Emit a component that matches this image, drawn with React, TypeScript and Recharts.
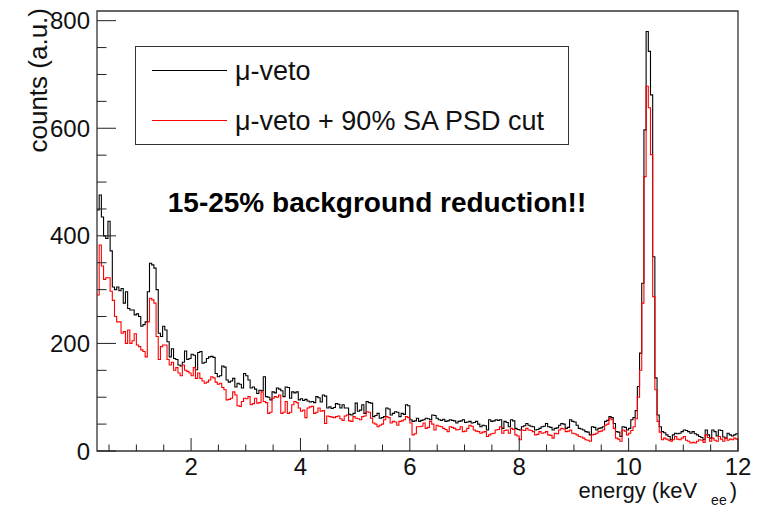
import React from 'react';
import { LineChart, Line, XAxis, YAxis, ReferenceArea, Legend } from 'recharts';

// histogram binning (keV)
const BIN_START = 0.28;
const BIN_WIDTH = 0.04;
const X_MAX = 12;
const Y_MAX = 818;

// counts per bin, mu-veto only
const muVeto = [
  // 0.28 - 2.12
  448, 476, 435, 400, 395, 427, 372, 305, 300, 305, 298, 302, 275, 296, 265, 262, 262, 253, 255, 250,
  232, 235, 240, 296, 349, 346, 340, 300, 219, 213, 232, 225, 203, 175, 190, 172, 170, 160, 158, 165,
  186, 170, 172, 180, 178, 151, 183,
  // 2.16 - 4.80
  185, 163, 165, 172, 175, 176, 174, 144, 138, 140, 158, 156, 132, 128, 130, 135, 119, 126, 124, 117,
  144, 140, 132, 117, 119, 115, 107, 113, 112, 138, 101, 100, 95, 110, 108, 117, 115, 112, 101, 119,
  118, 98, 110, 108, 110, 95, 97, 94, 96, 93, 91, 92, 90, 101, 99, 91, 104, 102, 80, 82,
  79, 81, 88, 87, 80, 86, 80,
  // 4.84 - 7.48
  80, 68, 67, 70, 89, 74, 76, 86, 70, 92, 90, 89, 64, 66, 70, 61, 62, 64, 80, 78,
  67, 70, 73, 72, 64, 70, 68, 86, 84, 58, 55, 56, 61, 55, 57, 58, 61, 60, 58, 67,
  66, 61, 58, 57, 59, 55, 56, 58, 57, 56, 52, 55, 56, 58, 53, 54, 55, 52, 53, 55,
  50, 45, 48, 47, 39, 58, 55,
  // 7.52 - 10.00
  56, 58, 57, 58, 42, 55, 53, 45, 58, 56, 42, 40, 39, 45, 47, 51, 48, 46, 45, 39,
  40, 42, 45, 46, 51, 45, 44, 39, 42, 43, 48, 51, 50, 42, 44, 58, 55, 54, 48, 42,
  41, 39, 36, 35, 30, 45, 44, 39, 42, 43, 45, 55, 57, 64, 62, 51, 36, 35, 27, 45,
  44, 39, 42,
  // 10.04 - 10.56 (peak)
  58, 62, 75, 120, 182, 312, 597, 780, 743, 662, 361, 136, 67, 45,
  // 10.60 - 11.96
  36, 34, 30, 27, 21, 30, 33, 32, 33, 36, 39, 38, 36, 33, 36, 32, 30, 27, 25, 21,
  39, 30, 24, 39, 36, 28, 39, 38, 26, 24, 33, 30, 28, 30, 32,
];

// counts per bin, mu-veto + 90% SA PSD cut
const muVetoPsd = [
  // 0.28 - 2.12
  290, 383, 344, 319, 322, 322, 297, 280, 250, 240, 240, 219, 222, 200, 225, 200, 205, 218, 197, 194,
  188, 185, 175, 240, 284, 281, 275, 213, 170, 194, 197, 197, 170, 160, 165, 150, 155, 145, 140, 160,
  150, 148, 145, 140, 155, 135, 145,
  // 2.16 - 4.80
  135, 130, 126, 128, 132, 138, 136, 128, 124, 126, 118, 114, 95, 96, 98, 110, 104, 84, 83, 92,
  98, 97, 101, 86, 88, 98, 89, 90, 110, 92, 90, 70, 72, 98, 101, 100, 104, 70, 72, 92,
  70, 72, 86, 92, 90, 80, 74, 76, 62, 80, 82, 83, 70, 72, 80, 74, 75, 51, 65, 64,
  63, 62, 64, 65, 60, 57, 65,
  // 4.84 - 7.48
  67, 56, 55, 64, 61, 60, 58, 64, 65, 73, 72, 61, 52, 50, 45, 48, 50, 58, 64, 62,
  52, 55, 54, 48, 55, 56, 58, 64, 62, 52, 30, 32, 45, 45, 46, 52, 42, 44, 55, 50,
  39, 48, 46, 45, 42, 40, 36, 45, 44, 42, 39, 40, 45, 36, 37, 42, 48, 46, 39, 37,
  36, 33, 35, 36, 27, 30, 32,
  // 7.52 - 10.00
  33, 39, 40, 45, 33, 38, 39, 33, 42, 40, 30, 28, 21, 39, 38, 42, 39, 38, 36, 30,
  31, 36, 33, 34, 36, 30, 29, 24, 33, 32, 39, 42, 41, 36, 37, 39, 33, 32, 30, 27,
  26, 24, 21, 20, 18, 30, 31, 33, 36, 37, 39, 48, 50, 61, 58, 42, 24, 22, 18, 39,
  37, 30, 33,
  // 10.04 - 10.56 (peak)
  38, 45, 60, 100, 150, 275, 510, 678, 638, 551, 287, 114, 55, 35,
  // 10.60 - 11.96
  21, 24, 22, 20, 18, 21, 27, 22, 21, 24, 27, 20, 18, 15, 16, 15, 18, 21, 20, 16,
  30, 25, 18, 24, 20, 18, 27, 22, 18, 24, 20, 22, 21, 24, 22,
];

const X_MAJOR = [2, 4, 6, 8, 10, 12];
const X_MINOR = [0.5, 1, 1.5, 2.5, 3, 3.5, 4.5, 5, 5.5, 6.5, 7, 7.5, 8.5, 9, 9.5, 10.5, 11, 11.5];
const Y_MAJOR = [0, 200, 400, 600, 800];
const Y_MINOR = [50, 100, 150, 250, 300, 350, 450, 500, 550, 650, 700, 750];

const SERIES_NAMES = ['\u03bc-veto', '\u03bc-veto + 90% SA PSD cut'];

const FONT = '"Liberation Sans", Arial, Helvetica, sans-serif';

// step points: one per bin low edge, plus the closing edge
const data = muVeto.map((v, i) => ({
  e: Math.round((BIN_START + i * BIN_WIDTH) * 100) / 100,
  veto: v,
  psd: muVetoPsd[i],
}));
data.push({ e: X_MAX, veto: muVeto[muVeto.length - 1], psd: muVetoPsd[muVetoPsd.length - 1] });

const XTick = (props: any) => {
  const { x, y, payload } = props;
  const major = X_MAJOR.includes(payload.value);
  return (
    <g>
      <line x1={x} x2={x} y1={y} y2={y - (major ? 13 : 6.5)} stroke="#222" strokeWidth={1} />
      {major && (
        <text x={x} y={y + 24} textAnchor="middle" fontSize={24} fontFamily={FONT} fill="#111">
          {payload.value}
        </text>
      )}
    </g>
  );
};

const YTick = (props: any) => {
  const { x, y, payload } = props;
  const major = Y_MAJOR.includes(payload.value);
  return (
    <g>
      <line x1={x} x2={x + (major ? 19 : 9.5)} y1={y} y2={y} stroke="#222" strokeWidth={1} />
      {major && (
        <text x={x - 7} y={y} dy="0.36em" textAnchor="end" fontSize={24} fontFamily={FONT} fill="#111">
          {payload.value}
        </text>
      )}
    </g>
  );
};

const renderLegend = (props: any) => {
  const items = props.payload || [];
  return (
    <div
      style={{
        position: 'relative',
        width: 434,
        height: 99,
        boxSizing: 'border-box',
        border: '1.5px solid #333',
        background: '#fff',
        fontFamily: FONT,
        fontSize: 27,
        color: '#111',
      }}
    >
      {items.map((it: any, i: number) => (
        <div key={i} style={{ position: 'absolute', left: 0, top: 24 + i * 50 - 16, height: 32, width: '100%' }}>
          <div style={{ position: 'absolute', left: 16, top: 15, width: 75, height: 1, background: it.color }} />
          <div style={{ position: 'absolute', left: 99, top: 0, lineHeight: '32px', whiteSpace: 'nowrap' }}>
            {it.value}
          </div>
        </div>
      ))}
    </div>
  );
};

export default function App() {
  return (
    <div style={{ position: 'absolute', left: 0, top: 0, width: 760, height: 509, background: '#fff', overflow: 'hidden' }}>
      <LineChart width={760} height={509} data={data} margin={{ top: 11, right: 22, bottom: 0, left: 0 }}>
        <XAxis
          dataKey="e"
          type="number"
          domain={[BIN_START, X_MAX]}
          ticks={[...X_MINOR, ...X_MAJOR].sort((a, b) => a - b)}
          interval={0}
          allowDataOverflow
          axisLine={false}
          tickLine={false}
          tickSize={0}
          tickMargin={0}
          height={58}
          tick={<XTick />}
        />
        <YAxis
          type="number"
          domain={[0, Y_MAX]}
          ticks={[...Y_MINOR, ...Y_MAJOR].sort((a, b) => a - b)}
          interval={0}
          allowDataOverflow
          axisLine={false}
          tickLine={false}
          tickSize={0}
          tickMargin={0}
          width={97}
          tick={<YTick />}
        />
        <ReferenceArea x1={BIN_START} x2={X_MAX} y1={0} y2={Y_MAX} fill="none" stroke="#333" strokeWidth={1.3} />
        <Line
          type="stepAfter"
          dataKey="veto"
          name={SERIES_NAMES[0]}
          stroke="#000"
          strokeWidth={1.1}
          dot={false}
          activeDot={false}
          isAnimationActive={false}
        />
        <Line
          type="stepAfter"
          dataKey="psd"
          name={SERIES_NAMES[1]}
          stroke="#ff0000"
          strokeWidth={1.1}
          dot={false}
          activeDot={false}
          isAnimationActive={false}
        />
        <Legend
          layout="vertical"
          align="center"
          verticalAlign="middle"
          wrapperStyle={{ left: 135, top: 46, width: 434, height: 99 }}
          content={renderLegend}
        />
      </LineChart>
      <svg
        width={760}
        height={509}
        style={{ position: 'absolute', left: 0, top: 0, pointerEvents: 'none' }}
      >
        <text
          x={377}
          y={212}
          textAnchor="middle"
          fontSize={28}
          fontWeight="bold"
          fontFamily={FONT}
          fill="#000"
        >
          15-25% background reduction!!
        </text>
        <text
          transform="translate(47,8) rotate(-90)"
          textAnchor="end"
          fontSize={26}
          fontFamily={FONT}
          fill="#111"
        >
          counts (a.u.)
        </text>
        <text x={737} y={498} textAnchor="end" fontSize={22} fontFamily={FONT} fill="#111">
          energy (keV
          <tspan fontSize={14} dx={14} dy={7}>ee</tspan>
          <tspan dx={3} dy={-7}>)</tspan>
        </text>
      </svg>
    </div>
  );
}
